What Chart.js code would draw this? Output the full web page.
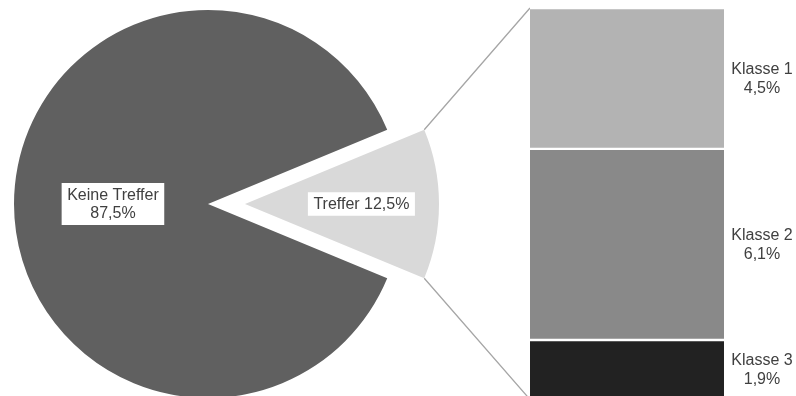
<!DOCTYPE html>
<html>
<head>
<meta charset="utf-8">
<script src="https://cdn.jsdelivr.net/npm/chart.js@4.4.1/dist/chart.umd.min.js"></script>
<style>
  html, body { margin: 0; padding: 0; background: #fff; }
  body { width: 796px; height: 396px; overflow: hidden; position: relative; }
  canvas { position: absolute; top: 0; }
  #pie { left: 0; }
  #bar { left: 530px; }
</style>
</head>
<body>
<canvas id="pie" width="796" height="396"></canvas>
<canvas id="bar" width="266" height="400"></canvas>
<script>
const pieLabels = ["Keine Treffer", "Treffer"];
const pieValues = [87.5, 12.5];

const classLabels = ["Klasse 1", "Klasse 2", "Klasse 3"];
const classValues = [4.5, 6.1, 1.9];

const pieColors = ["#606060", "#d9d9d9"];
const classColors = ["#b3b3b3", "#898989", "#222222"];

const FONT = "16px 'Liberation Sans', Arial, sans-serif";
const TEXT = "#404040";
const LINE_H = 18.5;
const explodeShift = 37;

const pct = v => v.toFixed(1).replace(".", ",") + "%";
const pieTotal = pieValues.reduce((a, b) => a + b, 0);
const classTotal = classValues.reduce((a, b) => a + b, 0);

// rotate so the small slice sits centred on the right-hand side
const firstSweep = pieValues[0] / pieTotal * 360;
const lastSweep = pieValues[1] / pieTotal * 360;
const pieRotation = 90 - firstSweep - lastSweep / 2;

function textBlock(ctx, lines, cx, cy, boxed) {
    ctx.font = FONT;
    const w = Math.max(...lines.map(l => ctx.measureText(l).width));
    const h = lines.length * LINE_H;
    if (boxed) {
        ctx.fillStyle = "#ffffff";
        ctx.fillRect(cx - w / 2 - 5.5, cy - h / 2 - 2.5, w + 11, h + 5);
    }
    ctx.fillStyle = TEXT;
    ctx.textAlign = "center";
    ctx.textBaseline = "middle";
    lines.forEach((l, i) => {
        ctx.fillText(l, cx, cy - h / 2 + LINE_H * (i + 0.5) + 0.5);
    });
}

// labels to the right of each stacked segment
const classLabelPlugin = {
    id: "classLabels",
    afterDatasetsDraw(chart) {
        const ctx = chart.ctx;
        const x = chart.chartArea.right + 38;
        classLabels.forEach((l, i) => {
            const el = chart.getDatasetMeta(i).data[0];
            textBlock(ctx, [l, pct(classValues[i])], x, (el.y + el.base) / 2, false);
        });
    }
};

const barChart = new Chart(document.getElementById("bar"), {
    type: "bar",
    data: {
        labels: [pieLabels[1]],
        datasets: classLabels.map((l, i) => ({
            label: l,
            data: [classValues[i]],
            backgroundColor: classColors[i],
            borderColor: "#ffffff",
            borderWidth: { top: 1.5, bottom: 1.5, left: 0, right: 0 },
            borderSkipped: false,
            barPercentage: 1,
            categoryPercentage: 1,
        })),
    },
    options: {
        responsive: false,
        animation: false,
        layout: { padding: { top: 8, bottom: 0.5, left: 0, right: 72 } },
        scales: {
            x: { stacked: true, display: false },
            y: { stacked: true, display: false, reverse: true, min: 0, max: classTotal },
        },
        plugins: { legend: { display: false }, tooltip: { enabled: false } },
    },
    plugins: [classLabelPlugin],
});

// draw the slices ourselves so the small one can be pulled out sideways
const pieExplode = {
    id: "pieExplode",
    beforeDatasetDraw(chart, args) {
        const ctx = chart.ctx;
        args.meta.data.forEach((arc, i) => {
            ctx.save();
            if (i === 1) {
                const mid = (arc.startAngle + arc.endAngle) / 2;
                ctx.translate(Math.cos(mid) * explodeShift, Math.sin(mid) * explodeShift);
            }
            arc.draw(ctx);
            ctx.restore();
        });
        return false;
    },
    afterDatasetsDraw(chart) {
        const ctx = chart.ctx;
        const arcs = chart.getDatasetMeta(0).data;

        // connector lines from the pulled-out slice to the stacked bar
        const hit = arcs[1];
        const mid = (hit.startAngle + hit.endAngle) / 2;
        const ox = hit.x + Math.cos(mid) * explodeShift;
        const oy = hit.y + Math.sin(mid) * explodeShift;
        const r = hit.outerRadius;
        const barLeft = barChart.canvas.offsetLeft;
        const first = barChart.getDatasetMeta(0).data[0];
        const last = barChart.getDatasetMeta(classLabels.length - 1).data[0];
        const bx = barLeft + first.x - first.width / 2;
        const top = Math.min(first.base, first.y);
        const bottom = Math.max(last.base, last.y);

        ctx.save();
        ctx.strokeStyle = "#a6a6a6";
        ctx.lineWidth = 1.3;
        ctx.beginPath();
        ctx.moveTo(ox + Math.cos(hit.startAngle) * r, oy + Math.sin(hit.startAngle) * r);
        ctx.lineTo(bx, top);
        ctx.moveTo(ox + Math.cos(hit.endAngle) * r, oy + Math.sin(hit.endAngle) * r);
        ctx.lineTo(bx, bottom);
        ctx.stroke();
        ctx.restore();

        // slice labels on white boxes
        const labelRadius = [0.49, 0.6];
        const labelLines = [
            [pieLabels[0], pct(pieValues[0])],
            [pieLabels[1] + " " + pct(pieValues[1])],
        ];
        arcs.forEach((arc, i) => {
            const a = (arc.startAngle + arc.endAngle) / 2;
            const shift = i === 1 ? explodeShift : 0;
            const d = shift + arc.outerRadius * labelRadius[i];
            textBlock(ctx, labelLines[i], arc.x + Math.cos(a) * d, arc.y + Math.sin(a) * d, true);
        });
    }
};

new Chart(document.getElementById("pie"), {
    type: "pie",
    data: {
        labels: pieLabels,
        datasets: [{
            data: pieValues,
            backgroundColor: pieColors,
            borderWidth: 0,
        }],
    },
    options: {
        responsive: false,
        animation: false,
        rotation: pieRotation,
        radius: 194,
        layout: { padding: { top: 12, bottom: 0, left: 0, right: 380 } },
        plugins: { legend: { display: false }, tooltip: { enabled: false } },
    },
    plugins: [pieExplode],
});
</script>
</body>
</html>
